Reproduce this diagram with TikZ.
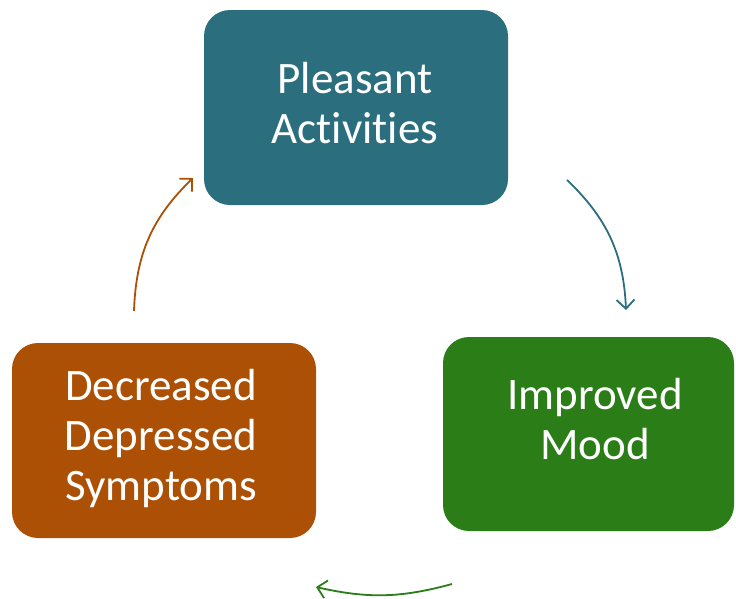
\documentclass[tikz,border=0pt]{standalone}
\usepackage{fontspec}
\setmainfont[Ligatures={NoCommon,NoRequired,NoContextual},RawFeature={-liga;-clig;-dlig}]{Carlito}
\usetikzlibrary{arrows.meta}
\definecolor{cteal}{HTML}{2B6E7E}
\definecolor{cgreen}{HTML}{2A7D17}
\definecolor{corange}{HTML}{AC5005}
\begin{document}
\begin{tikzpicture}[x=1pt,y=-1pt,
  box/.style={rounded corners=26pt,draw=none},
  lbl/.style={text=white,align=center,font=\fontsize{45}{50}\selectfont,inner sep=0pt},
  arr/.style={line width=1.8pt,-{Straight Barb[length=9pt,width=18pt,line width=1.8pt]}}]
\useasboundingbox (0,0) rectangle (736,598);
\fill[box,cteal] (204,10) rectangle (508,205);
\fill[box,cgreen] (443,337) rectangle (734,531);
\fill[box,corange] (12,343) rectangle (316,538);
\node[lbl] (pa) at (355,103) {Pleasant\\Ac\kern0pt ti\kern0pt vi\kern0pt t\kern0pt ies};
\node[lbl] (im) at (595,419) {Improved\\Mood};
\node[lbl] (dd) at (161,438) {Decreased\\Depressed\\Symptoms};
\coordinate (a1) at (567,180);
\coordinate (a2) at (626,310);
\coordinate (b1) at (452,584);
\coordinate (b2) at (316,587);
\coordinate (c1) at (134,311);
\coordinate (c2) at (193,178);
\draw[arr,cteal] (a1) to[bend left=22] (a2);
\draw[arr,cgreen] (b1) to[bend left=14] (b2);
\draw[arr,corange] (c1) to[bend left=22] (c2);
\end{tikzpicture}
\end{document}
